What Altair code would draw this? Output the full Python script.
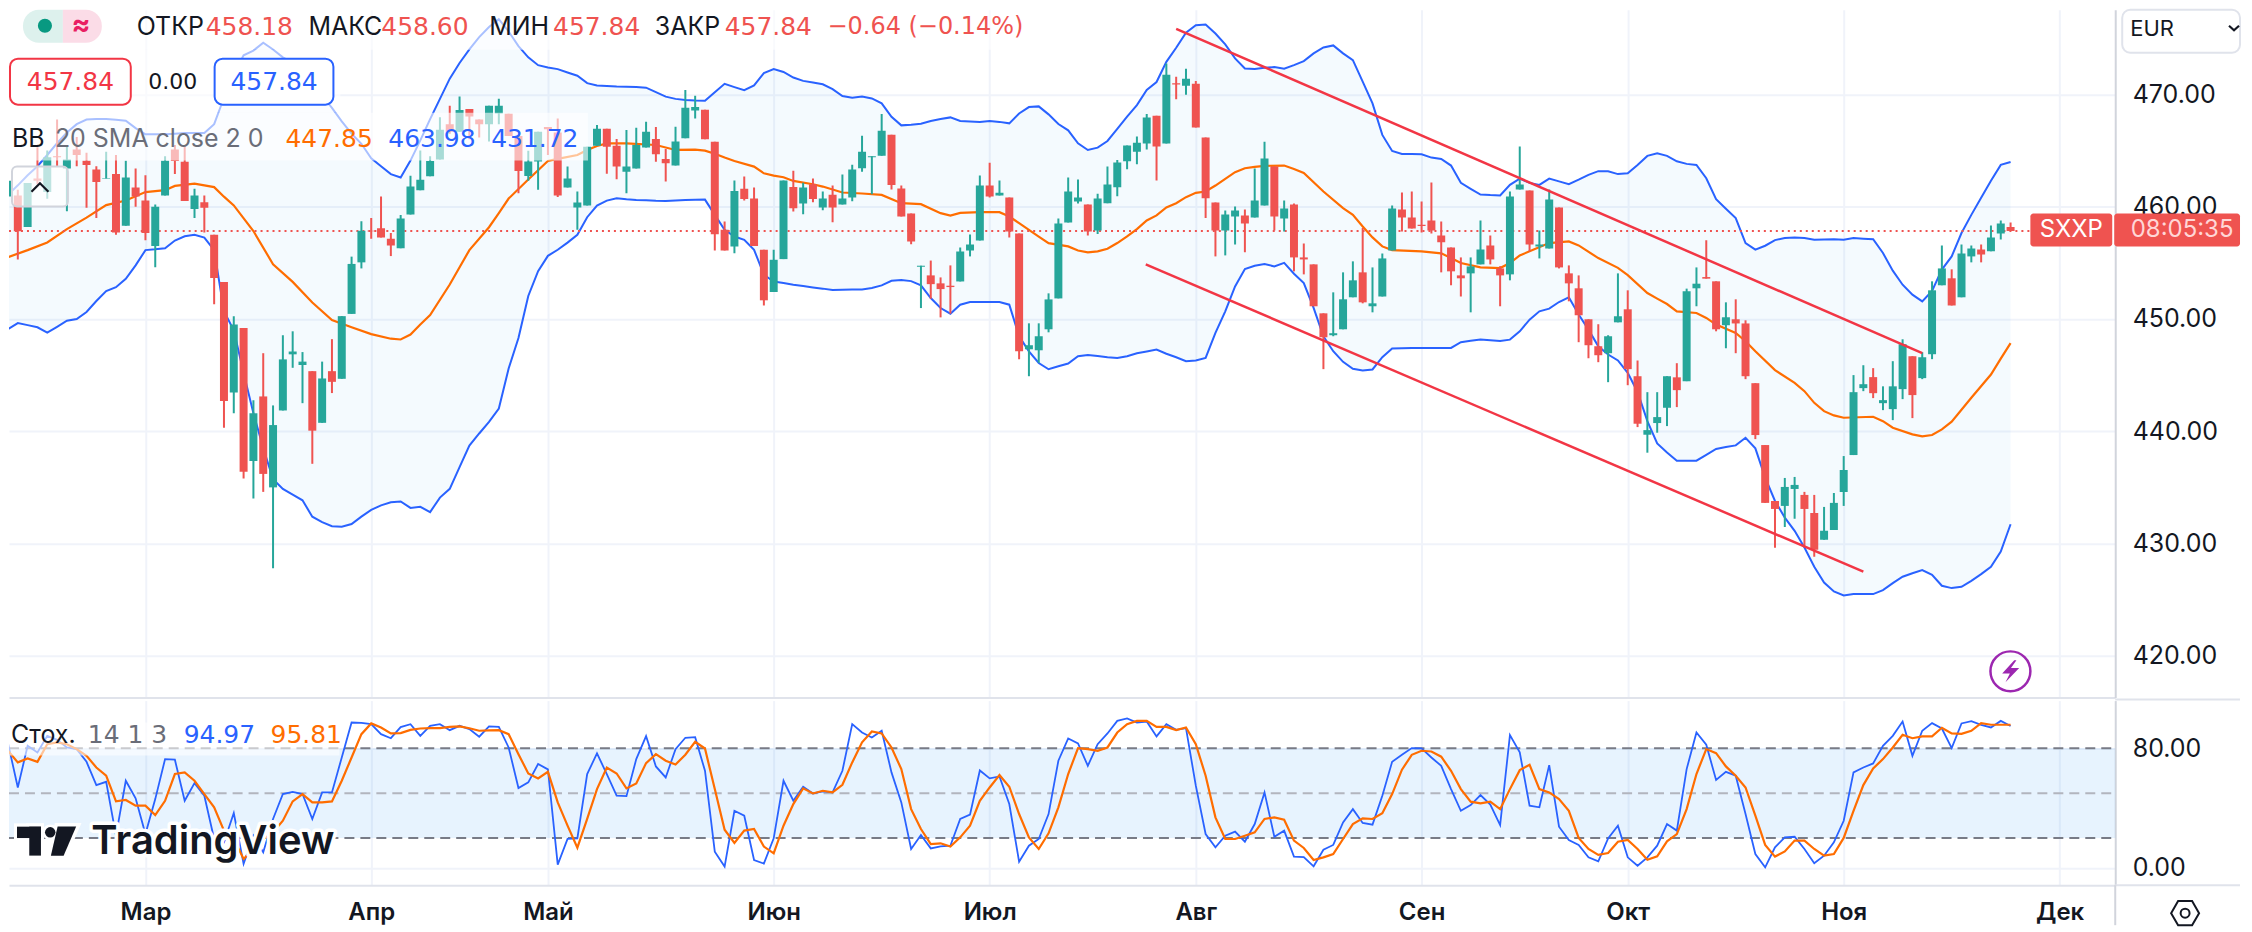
import altair as alt
import pandas as pd

OPEN = [460.9,461.0,458.2,462.5,461.3,464.5,463.4,465.1,464.1,463.3,462.5,462.9,458.3,461.7,460.55,456.5,461.0,465.1,464.0,459.8,
460.4,457.5,453.3,443.45,449.2,437.35,443.1,435.0,441.85,446.85,445.9,445.35,440.75,445.35,444.67,450.45,455.04,457.85,458.07,457.15,
456.3,459.3,461.47,462.7,464.2,467.35,466.67,468.7,467.76,467.35,468.3,468.27,466.3,462.73,464.02,467.1,466.6,461.7,459.92,460.1,
465.43,466.94,465.43,463.12,463.4,465.26,466.03,464.25,463.66,466.09,468.57,468.63,465.79,457.94,456.46,461.6,460.72,456.16,452.4,455.33,
461.76,460.28,462.0,459.92,461.05,460.19,460.81,463.42,464.4,464.54,466.41,461.61,459.39,454.65,453.88,453.17,452.96,453.34,456.1,456.99,
461.88,461.0,460.81,457.61,447.3,447.21,449.08,451.83,458.59,460.46,460.19,457.88,460.31,461.73,464.05,464.9,465.62,468.1,465.62,471.0,
470.77,470.95,466.15,460.37,457.88,459.13,459.22,459.04,460.1,463.57,458.95,460.19,455.48,454.86,450.5,448.55,449.08,451.93,454.15,451.13,
452.0,456.1,459.75,459.04,458.39,458.77,457.44,456.37,453.88,454.06,454.86,456.55,454.5,453.97,461.53,461.44,456.46,456.28,459.93,454.06,
452.73,449.97,447.57,446.95,449.7,450.86,444.9,439.69,440.73,442.09,444.8,444.46,452.73,453.73,453.35,449.44,449.97,449.6,444.28,438.77,
433.79,433.35,434.86,434.33,432.73,430.33,431.2,434.59,437.88,443.84,444.82,442.5,441.97,443.75,446.68,444.73,446.86,453.0,453.62,451.93,
455.57,456.19,456.02,457.62,458.18]
HIGH = [464.8,461.5,462.1,465.3,465.0,467.76,465.5,466.2,464.8,463.6,464.9,464.6,464.1,463.4,462.8,460.2,464.5,465.5,465.5,461.6,
461.0,457.5,453.3,450.25,449.2,442.76,446.95,442.3,448.55,448.9,447.05,445.35,446.2,448.2,450.25,455.55,458.7,459.0,460.9,457.66,
459.26,462.76,465.0,464.5,467.96,468.98,469.8,468.7,467.76,468.99,469.6,468.27,466.3,464.97,466.67,467.1,467.85,463.57,461.34,465.34,
467.27,466.94,466.03,466.83,467.03,467.57,467.1,465.14,467.12,470.38,469.88,468.63,465.79,458.68,462.32,462.68,461.7,456.16,456.16,462.32,
463.2,462.14,462.5,461.34,461.88,462.86,463.74,466.32,464.49,468.25,466.41,461.88,459.39,454.74,455.2,453.7,454.77,456.37,457.52,462.77,
463.92,462.32,460.81,457.61,449.61,449.61,452.28,458.94,462.59,462.41,460.19,461.14,463.57,464.16,465.44,466.24,468.25,468.1,472.76,471.57,
472.28,471.19,466.15,460.37,459.66,460.02,459.75,463.39,465.79,463.57,460.55,460.28,456.73,454.86,450.5,452.37,454.15,455.13,458.09,454.59,
455.84,460.1,461.26,461.35,460.46,462.15,458.68,456.37,455.48,455.48,458.77,457.44,454.7,461.35,465.35,461.44,457.88,461.52,459.93,454.77,
453.88,449.97,449.53,448.55,454.06,452.55,446.3,443.48,443.48,444.9,446.06,452.7,454.59,457.0,453.35,451.48,451.75,449.88,444.28,438.77,
433.79,435.84,435.93,434.6,434.33,433.26,434.5,437.79,445.0,445.88,445.62,444.0,446.24,448.19,446.68,447.04,453.35,456.55,454.42,456.64,
456.55,456.64,458.33,458.77,458.6]
LOW = [460.7,455.3,458.2,462.0,460.7,463.6,459.6,463.6,459.9,459.0,462.5,457.5,458.3,460.0,457.0,454.6,461.0,462.9,460.5,459.0,
457.7,451.3,440.3,441.6,435.8,434.0,434.6,427.8,441.85,445.65,442.5,437.1,440.75,443.4,444.67,450.45,454.5,457.15,457.25,455.6,
456.3,459.3,461.47,462.7,464.2,466.5,466.67,466.0,466.17,465.8,467.35,466.3,461.2,462.3,461.5,464.6,460.85,461.7,457.94,460.1,
465.43,462.94,462.44,461.2,463.4,465.26,464.0,462.23,463.66,466.09,467.86,466.0,456.1,456.1,455.86,460.54,456.5,451.2,452.4,455.33,
459.57,459.33,460.4,459.69,458.62,460.19,460.49,463.12,461.1,464.54,461.52,459.12,456.66,450.97,451.8,450.14,450.47,453.34,455.57,456.99,
460.81,461.0,457.26,446.41,444.9,446.09,448.81,451.83,458.59,460.28,457.43,457.56,460.31,460.93,463.33,463.78,465.08,462.33,465.62,469.56,
469.97,467.04,458.98,455.57,455.66,456.64,455.93,459.04,460.1,457.88,457.79,454.24,453.97,451.13,445.53,448.46,449.08,451.93,451.39,450.59,
452.0,456.1,457.79,458.06,457.7,457.6,454.15,453.0,452.0,450.59,454.86,454.86,451.13,453.44,461.53,456.0,455.39,456.28,454.5,451.57,
447.93,446.5,446.15,444.37,449.7,444.1,440.37,438.09,439.87,440.46,442.15,444.46,451.13,453.59,448.9,447.39,446.95,444.64,439.3,433.62,
429.62,431.48,432.2,429.79,428.82,430.33,431.2,433.35,437.88,443.57,442.95,441.88,440.99,442.86,441.17,444.64,446.42,453.0,451.2,451.93,
455.04,455.04,456.02,457.08,457.84]
CLOSE = [462.3,457.8,462.1,462.3,464.4,464.4,464.2,464.6,463.7,462.2,462.55,457.7,462.6,460.9,457.66,460.0,464.1,464.06,460.5,461.0,
459.9,453.65,442.7,449.5,436.4,441.6,436.2,440.55,446.4,447.1,446.2,440.05,444.7,444.4,450.25,454.9,457.85,457.8,457.25,456.54,
458.95,461.8,462.4,464.06,466.85,466.67,468.6,468.04,467.35,468.99,468.99,466.3,463.17,464.02,466.67,466.9,461.0,462.5,460.37,465.34,
466.94,465.34,463.57,463.57,465.5,466.68,464.66,463.86,465.8,468.8,468.87,466.0,457.55,456.1,461.4,460.69,456.5,451.66,455.27,462.32,
459.86,461.7,460.69,460.72,459.92,460.72,463.3,464.9,464.49,466.77,461.94,459.12,456.9,454.74,453.1,452.66,452.84,456.0,456.63,461.88,
460.9,461.23,457.79,447.12,447.66,448.46,451.74,458.5,461.34,460.81,457.79,460.73,461.97,463.93,465.44,465.7,467.93,465.35,471.75,470.89,
471.39,467.04,460.76,457.88,459.3,459.66,458.5,460.55,464.28,459.13,459.84,455.48,455.3,451.13,448.37,448.73,451.75,453.44,451.48,451.39,
455.39,459.84,459.04,458.06,458.27,457.88,456.82,454.24,453.62,454.68,456.19,455.3,453.88,460.9,461.97,456.64,456.64,460.64,454.59,453.17,
450.33,447.66,446.77,448.46,450.24,445.53,440.67,440.1,441.26,444.9,443.66,452.46,453.14,453.59,449.08,450.15,449.6,444.9,439.66,433.62,
433.08,435.04,435.22,433.08,429.44,431.13,433.62,436.55,443.48,444.19,443.39,442.77,444.0,447.75,443.22,446.59,452.55,454.5,451.2,455.84,
456.28,455.75,457.26,458.5,457.84]

BB_UPPER = [461.06,461.9,462.8,463.6,464.6,465.65,466.6,467.35,467.76,467.8,467.8,467.75,467.66,467.0,466.44,466.45,466.44,466.5,466.55,466.55,
466.57,467.35,469.7,471.8,473.48,473.9,474.6,474.0,473.3,472.8,472.2,471.2,469.9,468.8,467.6,466.5,465.6,464.3,463.6,462.9,
462.6,464.1,465.9,467.8,469.6,471.4,472.8,474.0,475.1,476.0,476.7,475.6,474.3,473.3,472.6,472.4,472.25,471.95,471.66,471.0,
470.8,470.75,470.7,470.68,470.65,470.6,470.2,469.8,469.6,469.5,469.45,469.43,470.2,470.94,470.65,470.38,470.8,471.9,472.25,472.0,
471.5,471.2,471.05,470.9,470.47,469.85,469.7,469.8,469.64,469.2,468.0,467.24,467.3,467.39,467.63,467.8,467.95,467.63,467.58,467.54,
467.63,467.55,467.42,468.3,468.87,468.93,468.22,467.36,466.8,465.64,465.05,465.26,465.85,466.92,468.02,469.05,470.39,471.1,472.9,474.15,
475.5,476.16,476.22,475.42,474.45,473.2,472.31,472.25,472.37,472.43,472.28,472.6,472.96,473.65,474.18,474.36,473.65,473.05,471.13,469.2,
466.39,464.96,464.7,464.68,464.67,464.37,464.25,463.66,462.12,461.59,461.08,461.03,461.0,461.94,462.5,462.12,461.94,462.5,462.25,462.0,
462.4,462.83,463.16,463.16,462.9,462.98,463.72,464.52,464.76,464.52,464.04,463.81,463.72,462.53,460.67,459.81,458.98,456.76,456.17,456.52,
457.02,457.2,457.26,457.2,457.05,457.08,457.1,457.05,457.2,457.15,457.1,455.87,454.3,453.05,452.16,451.57,452.5,454.4,455.57,457.65,
459.27,460.8,462.3,463.72,463.98]
BB_LOWER = [449.09,449.63,449.45,449.26,448.78,449.3,449.84,450.0,450.62,451.6,452.49,452.83,453.58,454.77,456.13,456.2,456.3,456.98,457.36,457.49,
457.25,456.13,450.69,448.99,445.2,441.61,438.5,435.72,434.87,434.35,433.85,432.39,431.9,431.54,431.5,431.74,432.4,433.0,433.4,433.68,
433.75,433.17,433.27,432.8,434.09,434.87,436.8,438.72,439.8,440.83,442.02,445.59,448.3,452.05,454.26,455.62,456.16,456.8,457.49,459.06,
460.1,460.54,460.75,460.65,460.6,460.57,460.53,460.51,460.55,460.6,460.62,460.63,459.27,457.94,457.34,457.05,456.16,453.94,453.34,453.2,
453.05,452.93,452.81,452.7,452.57,452.6,452.62,452.63,452.75,452.99,453.4,453.46,453.37,452.99,451.86,450.97,450.47,451.27,451.51,451.52,
451.52,451.51,451.27,448.46,447.12,446.08,445.52,445.79,446.03,446.68,446.8,446.7,446.6,446.53,446.68,446.95,447.1,447.27,446.9,446.59,
446.24,446.3,446.53,448.76,450.68,452.9,454.45,454.74,454.89,454.68,455.0,454.03,453.2,450.98,448.46,447.13,446.18,445.56,445.41,445.5,
446.59,447.36,447.4,447.41,447.42,447.42,447.42,447.42,447.93,448.05,448.16,448.1,448.04,448.16,448.9,449.94,450.68,450.92,451.51,451.93,
450.39,449.05,447.57,446.83,446.3,445.2,443.5,440.9,438.92,438.1,437.38,437.38,437.38,437.9,438.42,438.6,438.74,439.42,438.48,435.87,
433.79,432.31,431.13,429.65,427.93,426.53,425.73,425.38,425.5,425.5,425.5,425.85,426.47,427.04,427.35,427.63,427.22,426.24,426.03,426.15,
426.68,427.28,427.93,429.29,431.72]
BASIS_I = [0,2,4,6,8,10,12,14,16,17,19,21,22,23,25,27,29,31,33,35,37,39,40,41,42,43,45,47,49,50,51,53,55,56,58,59,60,61,63,66,68,70,71,72,73,74,76,77,78,79,80,82,83,85,87,89,91,93,95,96,97,99,101,102,103,105,106,108,109,110,111,112,113,114,115,116,117,118,119,120,121,122,123,124,125,126,127,128,130,131,132,134,136,137,138,139,140,141,144,146,147,148,150,152,153,154,155,157,159,160,162,164,165,167,168,169,170,172,173,174,176,177,178,180,182,183,184,185,186,187,190,191,192,194,195,196,197,198,200,202,203,204]
BASIS_V = [455.5,456.13,456.81,458.0,459.02,460.14,460.55,461.3,461.47,461.85,462.05,461.74,460.89,460.11,457.83,454.87,453.3,451.47,449.9,449.26,448.65,448.24,448.17,448.61,449.5,450.35,453.07,456.13,458.17,459.43,460.72,462.42,464.07,464.25,464.6,465.05,465.4,465.64,465.64,465.49,465.05,465.08,464.99,464.72,464.37,464.07,463.57,462.97,462.77,462.62,462.29,462.0,461.79,461.26,461.17,461.05,460.31,460.22,459.42,459.21,459.45,459.51,459.51,459.12,458.53,457.34,456.75,456.46,456.1,455.93,456.02,456.25,456.76,457.35,458.0,458.77,459.22,459.93,460.31,460.85,461.23,461.35,461.88,462.47,463.07,463.42,463.54,463.63,463.66,463.36,463.0,461.35,459.87,459.27,458.24,457.26,456.46,456.13,456.02,455.84,455.42,454.98,454.59,454.53,454.98,455.66,456.02,456.76,456.9,456.55,455.42,454.55,453.9,452.31,451.81,451.33,450.68,450.53,450.09,449.5,448.76,448.02,447.13,445.44,444.31,443.57,442.53,441.79,441.41,441.2,441.29,440.9,440.31,439.72,439.54,439.66,440.16,440.85,442.98,445.05,446.47,447.85]

STOCH_K = [83.5,53.8,81.7,77.3,88.4,85.7,80.6,79.5,71,55.4,57.6,21.5,58.3,46.5,22.6,46,72.8,72.4,44.9,56.7,
48.3,19.3,17.1,36.7,2.6,21.5,10.4,32.7,49.4,50.9,49.4,32.7,50.5,50.5,73.9,97.3,97.1,96.2,89.5,86.8,
94.2,96.2,88.4,95.1,96.2,92.2,95.1,92.9,87.8,94.7,94.4,80.6,53.4,57.2,69.5,65.9,2.1,19.3,19.7,62.8,
76.6,62.8,48.3,48,72.8,88.2,67.9,60.5,79.5,87.1,87.5,65,10.8,0.8,38.2,34.9,5.2,
2.8,19.7,58.3,44.9,54.3,49.8,51.2,50.5,65,96.2,90.6,87.3,91.8,63.9,43.8,12.6,22,13,14.4,14.8,
32.7,35.6,65.2,59.9,61.2,42.7,4.1,14.8,19.3,36,71.7,86.6,83.3,68.3,82.8,90,98.4,100,97.3,98,
88,96.2,92.4,93.5,55,22.6,13.7,21.5,24.2,17.5,29.3,50.5,20.8,24.9,7.5,7.2,1,12.1,15.3,30.4,
39.3,30,28.9,48.3,71,75.7,80.2,80,73.9,68.3,52.7,38.2,42,48.7,42.3,28.6,
88.9,77.3,41.6,40.5,68.8,27.5,18.6,15.3,7,4.3,19.7,28.2,7,1.4,7,14.8,29.3,24.9,66.1,90.6,
82.4,58.8,64.3,61.7,36,9.2,0.3,13.7,20.4,20.8,12.6,3,8.1,17.1,31.5,63.9,67.2,69.9,81.7,88.4,
98,75,91.8,96.9,93.3,80.2,96.7,98.2,95.8,94,98.4,94.97]
STOCH_D = [78.4,70.6,73.2,71,82.8,84,82.8,79.5,75,67.2,61.7,44.5,45.4,41.6,41.6,35.3,44.9,62.8,63.9,58.3,
49.4,40.5,24.9,19.3,5.9,12.6,19.3,23.7,31.5,44.5,49.4,43.8,43.8,44.5,58.3,73.9,89.5,96.7,94,90,
90.2,92.4,93.3,93.5,93.5,94.4,94.7,93.5,91.8,92,92.2,89.5,76.1,63.2,59.9,64.3,43.8,28.2,13.5,32.7,
52.7,67.2,63.2,53.2,56.5,70.1,76.1,71.7,69.2,75.7,84.4,79.9,52.7,25.5,16.6,24.9,26,
14.2,9.7,28.2,42.7,53.2,49.8,51.6,50.5,55.6,70.6,84,91.3,90,80.6,66.1,39.3,26,15.9,16.4,14.2,
20.4,28.2,44.9,53.8,62.1,54.3,36,20.4,12.6,23.1,40.5,62.8,80.2,79.5,78.4,80.6,90.6,96.2,98.4,98.4,
94.4,94.4,92.2,94,82.8,61.7,33.8,19.3,19.3,21.5,23.7,32.7,33.8,32.2,18.2,13.3,5.2,7,9.2,19.3,
29.3,33.1,32.7,36.5,49.4,65.7,75.7,78.4,77.9,74.4,65,52.7,44.3,43.1,44.3,39.3,
52.7,65.4,69,52.7,50.5,46,38.2,20,12.6,8.6,9.9,17.5,18.6,12.6,5.4,7.7,17.7,22.6,39.3,62.8,
79.5,76.8,67.9,61.7,53.8,34.9,15.3,7.5,11,18.2,18.2,12.6,8.1,9.2,20,38.2,55.4,66.6,72.8,80.6,
89.1,86.8,88,88,93.8,90,89.7,91.8,96.9,95.8,95.8,95.81]

TREND_UP_I = [119.0, 195.0]
TREND_UP_P = [475.84, 446.95]
TREND_DN_I = [115.9, 189.0]
TREND_DN_P = [454.86, 427.49]
MONTH_I = [14,37,55,78,100,121,144,165,187,209]
MONTH_L = ["Мар","Апр","Май","Июн","Июл","Авг","Сен","Окт","Ноя","Дек"]
PRICE_TICKS = [420,430,440,450,460,470]
STOCH_TICKS = [0,80]
LAST = 457.84

assert all(len(a) == 205 for a in (OPEN, HIGH, LOW, CLOSE, BB_UPPER, BB_LOWER, STOCH_K, STOCH_D)), [len(a) for a in (OPEN, HIGH, LOW, CLOSE, BB_UPPER, BB_LOWER, STOCH_K, STOCH_D)]
assert len(BASIS_I) == len(BASIS_V), (len(BASIS_I), len(BASIS_V))

FONT = "Inter"
NUM = "DejaVu Sans"
RED, GREEN, BLUE, ORANGE = "#ef5350", "#26a69a", "#2962ff", "#ff6d00"
INK, MUTED, GRID, EDGE = "#131722", "#6a6d78", "#f0f3fa", "#e0e3eb"
W, H1, H2 = 2110, 689, 185
TOP2 = 698

idx = list(range(205))
candles = pd.DataFrame({"i": idx, "open": OPEN, "high": HIGH, "low": LOW, "close": CLOSE,
                        "up": BB_UPPER, "lo": BB_LOWER, "k": STOCH_K, "d": STOCH_D})
candles["dir"] = ["u" if c >= o else "d" for o, c in zip(OPEN, CLOSE)]
basis = pd.DataFrame({"i": BASIS_I, "v": BASIS_V})
one = pd.DataFrame({"a": [0]})

xdom = [0.1017, 214.66]
xaxis_main = alt.Axis(values=MONTH_I, labels=False, ticks=False, title=None, grid=True, gridColor=GRID, gridWidth=2,
                      domainColor=EDGE, domainWidth=2)
lab = "{" + ",".join(f"'{i}':'{l}'" for i, l in zip(MONTH_I, MONTH_L)) + "}[datum.value]"
xaxis_st = alt.Axis(values=MONTH_I, labelExpr=lab, ticks=False, title=None, grid=True, gridColor=GRID, gridWidth=2,
                    domainColor=EDGE, domainWidth=2, labelFont=FONT, labelFontSize=24, labelFontWeight=600,
                    labelColor=INK, labelPadding=15, labelOverlap=False, labelFlush=False, labelBound=False)
yaxis_main = alt.Axis(values=PRICE_TICKS, orient="right", format=".2f", ticks=False, title=None, grid=True, gridColor=GRID,
                      gridWidth=2, domainColor="#d1d4dc", domainWidth=2, labelFont=FONT, labelFontSize=25, labelColor=INK,
                      labelPadding=17, labelOverlap=False, labelFlush=False, labelBound=False)
yaxis_st = alt.Axis(values=STOCH_TICKS, orient="right", format=".2f", ticks=False, title=None, grid=True, gridColor=GRID,
                    gridWidth=2, domainColor="#d1d4dc", domainWidth=2, labelFont=FONT, labelFontSize=25, labelColor=INK,
                    labelPadding=17, labelOverlap=False, labelFlush=False, labelBound=False)


def X1(f="i"):
    return alt.X(f"{f}:Q", scale=alt.Scale(domain=xdom, nice=False, zero=False), axis=xaxis_main)


def X2(f="i"):
    return alt.X(f"{f}:Q", scale=alt.Scale(domain=xdom, nice=False, zero=False), axis=xaxis_st)


def Y1(f):
    return alt.Y(f"{f}:Q", scale=alt.Scale(domain=[416.28, 477.53], nice=False, zero=False), axis=yaxis_main)


def Y2(f):
    return alt.Y(f"{f}:Q", scale=alt.Scale(domain=[-11.7, 112.0], nice=False, zero=False), axis=yaxis_st)


def text(s, x, y, color=INK, size=25, weight=400, align="left", top=8, font=FONT, **kw):
    return alt.Chart(one).mark_text(text=s, font=font, fontSize=size, fontWeight=weight, color=color, align=align,
                                    baseline="middle", **kw).encode(x=alt.value(x - 8), y=alt.value(y - top))


def num(s, x, y, color=INK, size=25, align="left", top=8):
    return text(s, x, y, color=color, size=size, align=align, top=top, font=NUM)


def box(x0, x1, y0, y1, top=8, **kw):
    return alt.Chart(one).mark_rect(**kw).encode(x=alt.value(x0 - 8), x2=alt.value(x1 - 8),
                                                 y=alt.value(y0 - top), y2=alt.value(y1 - top))


def icon(path, x, y, diameter, top=8, **kw):
    return alt.Chart(one).mark_point(shape=path, size=diameter ** 2, **kw).encode(x=alt.value(x - 8), y=alt.value(y - top))


color_dir = alt.Color("dir:N", scale=alt.Scale(domain=["u", "d"], range=[GREEN, RED]), legend=None)
band = alt.Chart(candles).mark_area(color="#2196f3", opacity=0.05, clip=True).encode(x=X1(), y=Y1("up"), y2="lo:Q")
up_line = alt.Chart(candles).mark_line(color=BLUE, strokeWidth=2, clip=True).encode(x=X1(), y=Y1("up"))
lo_line = alt.Chart(candles).mark_line(color=BLUE, strokeWidth=2, clip=True).encode(x=X1(), y=Y1("lo"))
bas_line = alt.Chart(basis).mark_line(color=ORANGE, strokeWidth=2.2, clip=True).encode(x=X1(), y=Y1("v"))
last_line = alt.Chart(pd.DataFrame({"p": [LAST]})).mark_rule(color=RED, strokeWidth=2, strokeDash=[2, 4]).encode(
    x=alt.value(0), x2=alt.value(2025), y=Y1("p"))
wick = alt.Chart(candles).mark_rule(strokeWidth=2, clip=True).encode(x=X1(), y=Y1("low"), y2="high:Q", color=color_dir)
body = alt.Chart(candles).mark_rule(strokeWidth=8, clip=True).encode(x=X1(), y=Y1("open"), y2="close:Q", color=color_dir)
tr_up = alt.Chart(pd.DataFrame({"i": TREND_UP_I, "p": TREND_UP_P})).mark_line(color="#f23645", strokeWidth=2.5).encode(x=X1(), y=Y1("p"))
tr_dn = alt.Chart(pd.DataFrame({"i": TREND_DN_I, "p": TREND_DN_P})).mark_line(color="#f23645", strokeWidth=2.5).encode(x=X1(), y=Y1("p"))

main_layers = [
    band, up_line, lo_line, bas_line, last_line, wick, body, tr_up, tr_dn,
    box(8, 1050, 8, 48, fill="white", opacity=0.6),
    box(8, 340, 48, 111, fill="white", opacity=0.6),
    box(8, 588, 111, 159, fill="white", opacity=0.6),
    # status pill
    box(22, 62, 8, 41, fill="#ddf1ed", cornerRadiusTopLeft=16, cornerRadiusBottomLeft=16),
    box(62, 101, 8, 41, fill="#fbdce7", cornerRadiusTopRight=16, cornerRadiusBottomRight=16),
    alt.Chart(one).mark_point(filled=True, color="#089981", size=200, opacity=1).encode(x=alt.value(36), y=alt.value(16)),
    text("≈", 80, 24, color="#e91e63", size=28, weight=700, align="center"),
    # OHLC row
    text("ОТКР", 136, 25), num("458.18", 205, 25, RED),
    text("МАКС", 308, 25), num("458.60", 381, 25, RED),
    text("МИН", 489, 25), num("457.84", 553, 25, RED),
    text("ЗАКР", 655, 25), num("457.84", 725, 25, RED),
    num("−0.64 (−0.14%)", 828, 25, RED, size=24),
    # quote boxes
    box(9, 130, 57, 103, fill="white", stroke="#f23645", strokeWidth=2, cornerRadius=8),
    num("457.84", 69.5, 80, "#f23645", align="center"),
    num("0.00", 172, 80, size=22, align="center"),
    box(214, 333, 57, 103, fill="white", stroke=BLUE, strokeWidth=2, cornerRadius=8),
    num("457.84", 273.5, 80, BLUE, align="center"),
    # BB legend
    text("BB", 11, 137), text("20 SMA close 2 0", 54, 137, MUTED),
    num("447.85", 285, 137, ORANGE), num("463.98", 388, 137, BLUE), num("431.72", 491, 137, BLUE),
    # collapse button
    box(11, 67, 165, 205, fill="white", fillOpacity=0.7, stroke="#d1d4dc", strokeWidth=2, cornerRadius=5),
    icon("M-1,0.5 L0,-0.5 L1,0.5", 39, 186, 17, filled=False, stroke=INK, strokeWidth=2.2, opacity=1),
    # EUR selector
    box(2125, 2243, 8, 51, fill="white", stroke=EDGE, strokeWidth=2, cornerRadius=8),
    text("EUR", 2133, 27, size=22),
    icon("M-1,-0.4 L0,0.5 L1,-0.4", 2237, 26, 10, filled=False, stroke=INK, strokeWidth=2.2, opacity=1),
    # last price tags
    box(2033, 2115, 212, 245, fill=RED, cornerRadius=3),
    text("SXXP", 2074, 229, "white", size=24, align="center"),
    box(2117, 2243, 212, 245, fill=RED, cornerRadius=3),
    text("08:05:35", 2185, 229, "#ffd6d6", size=24, align="center"),
    # lightning badge
    alt.Chart(one).mark_point(filled=False, stroke="#9c27b0", strokeWidth=2.5, size=1600, opacity=1).encode(
        x=alt.value(2013 - 8), y=alt.value(670.7 - 8)),
    icon("M0.35,-1 L-0.75,0.2 L-0.05,0.2 L-0.45,1 L0.8,-0.3 L0.05,-0.3 L0.55,-1 Z", 2013, 670.7, 22,
         filled=True, fill="#9c27b0", stroke=None, opacity=1),
]
main = alt.layer(*main_layers).properties(width=W, height=H1)

st_fill = alt.Chart(pd.DataFrame({"a": [80], "b": [20]})).mark_rect(color="#2196f3", opacity=0.11).encode(
    x=alt.value(0), x2=alt.value(W), y=Y2("a"), y2="b:Q")


def level(v, c):
    return alt.Chart(pd.DataFrame({"v": [v]})).mark_rule(color=c, strokeWidth=2, strokeDash=[10, 6]).encode(
        x=alt.value(0), x2=alt.value(W), y=Y2("v"))


k_line = alt.Chart(candles).mark_line(color=BLUE, strokeWidth=1.8, clip=True).encode(x=X2(), y=Y2("k"))
d_line = alt.Chart(candles).mark_line(color=ORANGE, strokeWidth=2.2, clip=True).encode(x=X2(), y=Y2("d"))

logo_par = "M-0.4,-0.97 L0.84,-0.97 L0,0.97 L-0.85,0.97 Z"
st_layers = [
    st_fill, level(80, "#787b86"), level(50, "#b2b5be"), level(20, "#787b86"), k_line, d_line,
    box(8, 339, 720, 753, top=TOP2, fill="white", opacity=0.6),
    text("Стох.", 10, 732, top=TOP2), num("14 1 3", 87, 732, MUTED, top=TOP2),
    num("94.97", 183, 732, BLUE, top=TOP2), num("95.81", 270, 732, ORANGE, top=TOP2),
    # logo halo then logo
    box(13, 43, 821, 839, top=TOP2, fill="white"),
    box(25, 43, 821, 856, top=TOP2, fill="white"),
    alt.Chart(one).mark_point(filled=True, fill="white", stroke=None, size=250, opacity=1).encode(x=alt.value(49.3 - 8), y=alt.value(830 - TOP2)),
    icon(logo_par, 62.7, 838.8, 30, top=TOP2, filled=True, fill="white", stroke="white", strokeWidth=7, opacity=1),
    text("TradingView", 90.5, 840, "white", size=40, weight=600, top=TOP2, stroke="white", strokeWidth=7, strokeJoin="round"),
    box(16, 40, 824.3, 835.7, top=TOP2, fill=INK),
    box(28.3, 40, 824.3, 853.3, top=TOP2, fill=INK),
    alt.Chart(one).mark_point(filled=True, fill=INK, stroke=None, size=110, opacity=1).encode(x=alt.value(49.3 - 8), y=alt.value(830 - TOP2)),
    icon(logo_par, 62.7, 838.8, 30, top=TOP2, filled=True, fill=INK, stroke=None, opacity=1),
    text("TradingView", 90.5, 840, INK, size=40, weight=600, top=TOP2),
    # right-hand frame
    alt.Chart(one).mark_rule(color=EDGE, strokeWidth=2).encode(x=alt.value(W), x2=alt.value(2243 - 8), y=alt.value(H2)),
    alt.Chart(one).mark_rule(color=EDGE, strokeWidth=2).encode(x=alt.value(W), x2=alt.value(2243 - 8), y=alt.value(-1)),
    alt.Chart(one).mark_rule(color="#d1d4dc", strokeWidth=2).encode(x=alt.value(W), y=alt.value(H2), y2=alt.value(923 - TOP2)),
    # settings icon
    icon("M-1,0 L-0.5,-0.87 L0.5,-0.87 L1,0 L0.5,0.87 L-0.5,0.87 Z", 2188, 911, 28, top=TOP2, filled=False, stroke=INK, strokeWidth=2, opacity=1),
    alt.Chart(one).mark_point(filled=False, stroke=INK, strokeWidth=2, size=80, opacity=1).encode(x=alt.value(2188 - 8), y=alt.value(911 - TOP2)),
]
stoch = alt.layer(*st_layers).properties(width=W, height=H2)

chart = alt.vconcat(main, stoch, spacing=1).properties(padding=0).configure_view(stroke=None).resolve_scale(color="independent")
chart.save("out.html", embed_options={"renderer": "svg", "actions": False})
